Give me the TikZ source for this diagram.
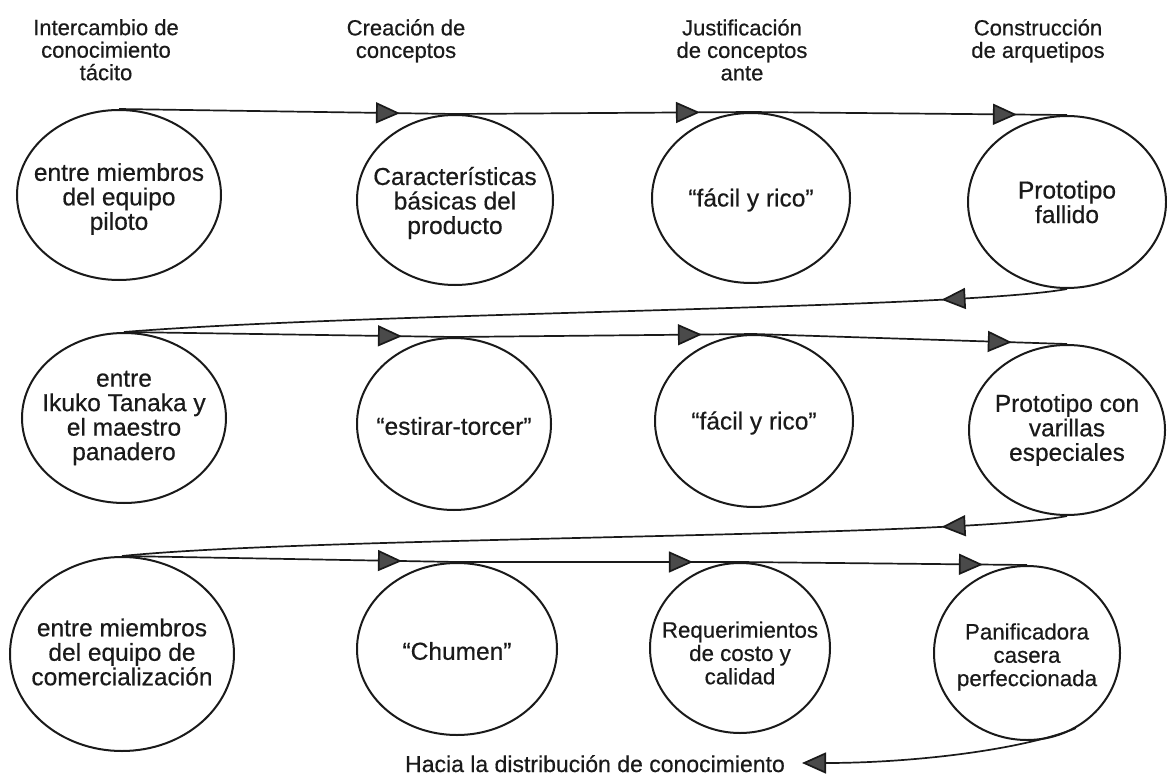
\documentclass[tikz,border=0pt]{standalone}
\usepackage{fontspec}
\setmainfont{Liberation Sans}[FakeBold=0.5]
\usetikzlibrary{shapes.geometric,arrows.meta,decorations.markings}
\definecolor{ink}{HTML}{1A1A1A}
\definecolor{tipgray}{HTML}{4A4A4A}
\begin{document}
\begin{tikzpicture}[x=1pt,y=-1pt,
  >={Triangle[length=24pt,width=21pt,fill=tipgray]},
  oval/.style 2 args={draw=ink,line width=2pt,ellipse,inner sep=0pt,minimum width=#1,minimum height=#2},
  txt/.style={align=center,font=\fontsize{24.5}{24.5}\selectfont,text=ink,inner sep=0pt},
  smalltxt/.style={txt,font=\fontsize{22.3}{23.3}\selectfont},
  head/.style={align=center,font=\fontsize{22}{22.5}\selectfont,text=ink,inner sep=0pt,anchor=north},
  flow/.style={draw=ink,line width=1.7pt,line join=round},
  marks3/.style n args={3}{postaction={decorate},decoration={markings,
     mark=at position #1 with {\arrow{>}},
     mark=at position #2 with {\arrow{>}},
     mark=at position #3 with {\arrow{>}}}},
  mark1/.style={postaction={decorate},decoration={markings,
     mark=at position #1 with {\arrow{>}}}}
]
\useasboundingbox (0,0) rectangle (1167,778);

% headers
\node[head] (h1) at (106,19) {Intercambio de\\conocimiento\\tácito};
\node[head] (h2) at (406,19) {Creación de\\conceptos};
\node[head] (h3) at (742,19) {Justificación\\de conceptos\\ante};
\node[head] (h4) at (1038,19) {Construcción\\de arquetipos};

% row 1
\node[oval={204pt}{170pt}] (e11) at (119,195) {};
\node[oval={196pt}{170pt}] (e12) at (455,200) {};
\node[oval={198pt}{170pt}] (e13) at (751,198) {};
\node[oval={198pt}{172pt}] (e14) at (1067,202) {};
\node[txt,yshift=-4pt] (t11) at (e11) {entre miembros\\del equipo\\piloto};
\node[txt,yshift=-3pt] (t12) at (e12) {Características\\básicas del\\producto};
\node[txt,yshift=-2pt] (t13) at (e13) {“fácil y rico”};
\node[txt] (t14) at (e14) {Prototipo\\fallido};

% row 2
\node[oval={204pt}{170pt}] (e21) at (124,418) {};
\node[oval={194pt}{172pt}] (e22) at (454,424) {};
\node[oval={198pt}{172pt}] (e23) at (754,421) {};
\node[oval={196pt}{170pt}] (e24) at (1067,430) {};
\node[txt] (t21) at (e21) {entre\\Ikuko Tanaka y\\el maestro\\panadero};
\node[txt,yshift=-2pt] (t22) at (e22) {“estirar-torcer”};
\node[txt,yshift=-2pt] (t23) at (e23) {“fácil y rico”};
\node[txt] (t24) at (e24) {Prototipo con\\varillas\\especiales};

% row 3
\node[oval={224pt}{194pt}] (e31) at (122,654) {};
\node[oval={200pt}{172pt}] (e32) at (457,649) {};
\node[oval={180pt}{170pt}] (e33) at (740,648) {};
\node[oval={186pt}{174pt}] (e34) at (1027,653) {};
\node[txt,yshift=2pt] (t31) at (e31) {entre miembros\\del equipo de\\comercialización};
\node[txt,yshift=-2pt] (t32) at (e32) {“Chumen”};
\node[smalltxt,yshift=-5pt] (t33) at (e33) {Requerimientos\\de costo y\\calidad};
\node[smalltxt,yshift=-4pt] (t34) at (e34) {Panificadora\\casera\\perfeccionada};

% forward lines
\draw[flow,marks3={281pt}{581pt}{898pt}] (e11.north) -- (e12.north) -- (e13.north) -- (e14.north);
\draw[flow,marks3={278pt}{578pt}{888pt}] (e21.north) -- (e22.north) -- (e23.north) -- (e24.north);
\draw[flow,marks3={280pt}{571pt}{861pt}] (e31.north) -- (e32.north) -- (e33.north) -- (e34.north);

% return lines
\draw[flow,mark1={126pt}] (e14.south) .. controls +(-110,20) and +(250,-20) .. (e21.north);
\draw[flow,mark1={126pt}] (e24.south) .. controls +(-110,22) and +(200,-20) .. (e31.north);

% final
\coordinate (fin) at (802,763);
\draw[flow,->] (e34.-57) .. controls +(-55,22) and +(110,0) .. (fin);
\node[font=\fontsize{23}{23}\selectfont,text=ink,inner sep=0pt,anchor=base] (hacia) at (595,772) {Hacia la distribución de conocimiento};
\end{tikzpicture}
\end{document}
